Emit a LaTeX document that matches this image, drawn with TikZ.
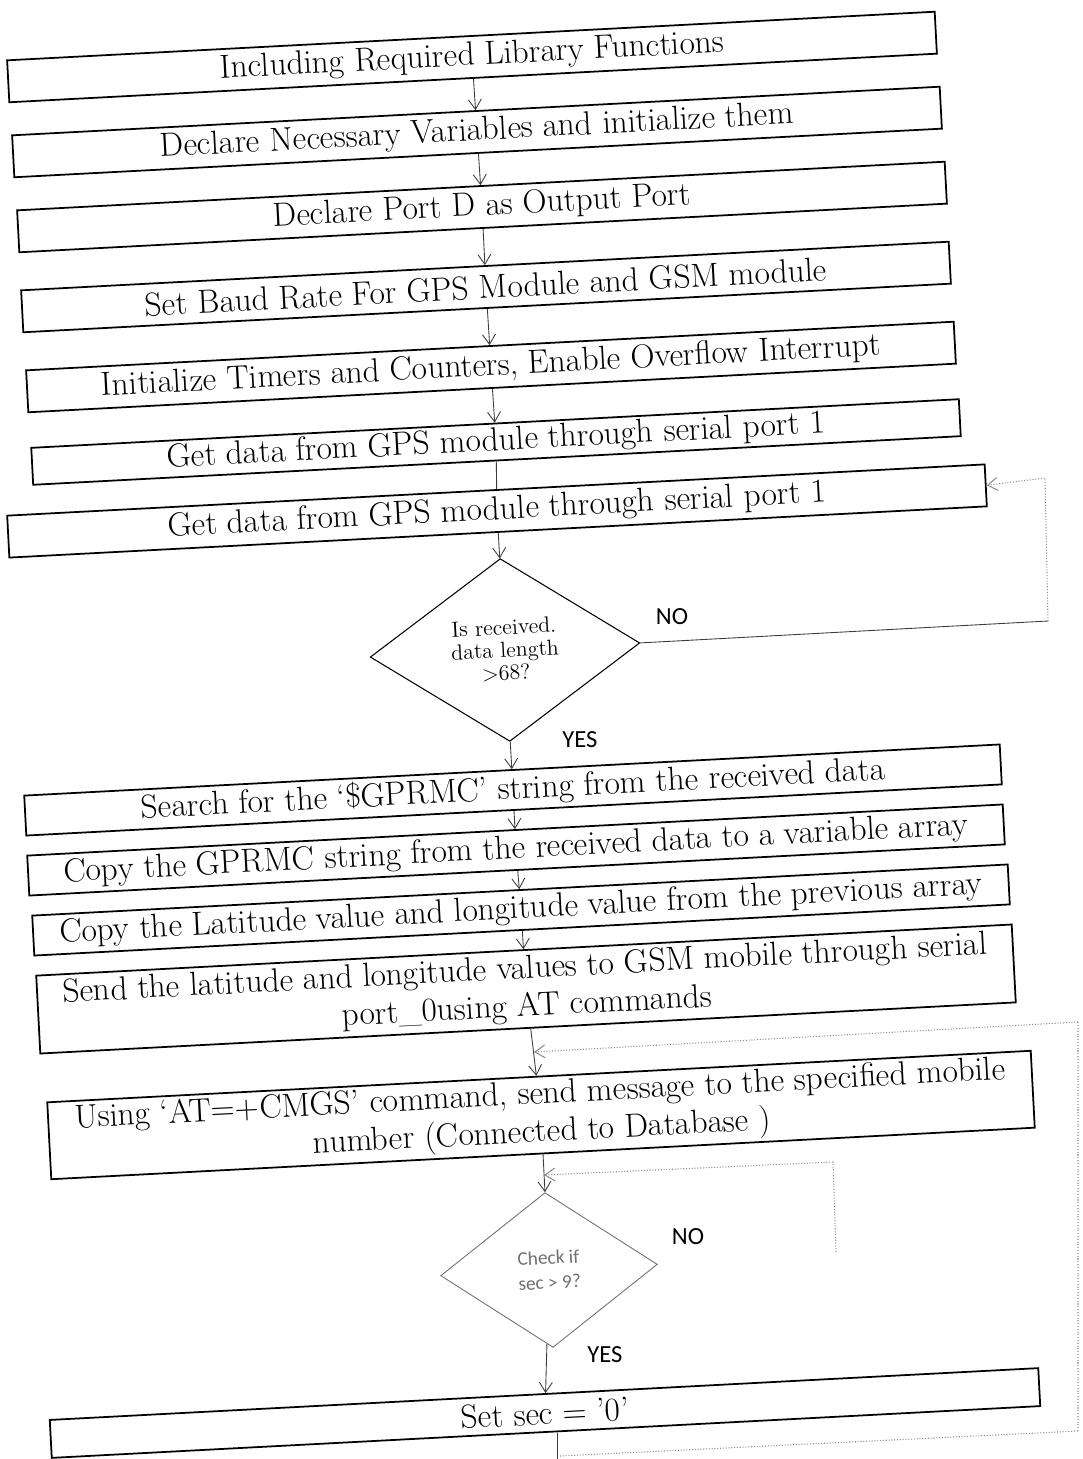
\documentclass[tikz,border=0pt]{standalone}
\usepackage{fontspec}
\usepackage{tikz}
\usetikzlibrary{shapes.geometric,arrows.meta}
\newfontfamily\carlito{Carlito}
\definecolor{grisL}{HTML}{3C3C3C}
\definecolor{grisP}{HTML}{8C8C8C}
\definecolor{grisC}{HTML}{B4B4B4}
\definecolor{grisT}{HTML}{707070}

\begin{document}
\begin{tikzpicture}[x=0.02cm,y=-0.02cm,
    caja/.style={draw,line width=1pt,rotate=3,inner sep=0pt,align=center,
      minimum width=18.58cm,minimum height=0.84cm,font=\fontsize{19}{21.6}\selectfont},
    rombo/.style={draw,diamond,rotate=3,inner sep=0pt,align=center},
    flecha/.style={grisL,line width=0.5pt,-{Straight Barb[length=2mm,width=2.6mm]}},
    linea/.style={grisL,line width=0.5pt},
    punteo/.style={grisP,line width=0.6pt,densely dotted},
    etiq/.style={font=\carlito\fontsize{14}{16}\selectfont}]
          \useasboundingbox (0,0) rectangle (1082,1459);
          \node[caja] (incl) at (472,57) {Including Required Library Functions};
          \node[caja] (vars) at (477,132) {Declare Necessary Variables and initialize them};
          \node[caja] (portD) at (482,207) {Declare Port D as Output Port};
          \node[caja] (baud) at (486,287) {Set Baud Rate For GPS Module and GSM module};
          \node[caja] (timers) at (491,367) {Initialize Timers and Counters, Enable Overflow Interrupt};
          \node[caja,minimum height=0.74cm] (gpsA) at (496,442) {Get data from GPS module through serial port 1};
          \node[caja,minimum width=19.58cm] (gpsB) at (497,511) {Get data from GPS module through serial port 1};
          \node[rombo,line width=0.6pt,minimum width=5.4cm,minimum height=3.66cm,
            font=\fontsize{12.5}{13}\selectfont] (largo) at (505,650) {Is received.\\data length\\>68?};
          \node[caja,minimum width=19.54cm,minimum height=0.8cm] (buscar) at (513,790) {Search for the ‘\$GPRMC’ string from the received data};
          \node[caja,minimum width=19.54cm,minimum height=0.8cm] (copiaA) at (516,850) {Copy the GPRMC string from the received data to a variable array};
          \node[caja,minimum width=19.54cm,minimum height=0.8cm] (copiaB) at (521,910) {Copy the Latitude value and longitude value from the previous array};
          \node[caja,minimum width=19.54cm,minimum height=1.56cm] (enviar) at (526,989) {Send the latitude and longitude values to GSM mobile through serial\\port\_0using AT commands};
          \node[caja,minimum width=19.7cm,minimum height=1.54cm] (cmgs) at (541,1115) {Using ‘AT=+CMGS’ command, send message to the specified mobile\\number (Connected to Database )};
          \node[rombo,grisT,line width=0.5pt,minimum width=4.34cm,minimum height=3.1cm,
            font=\carlito\fontsize{11}{14}\selectfont] (seg) at (549,1270) {Check if\\sec > 9?};
          \node[caja,minimum width=19.8cm,minimum height=0.76cm] (reset) at (545,1413) {Set sec = ’0’};
          \node[etiq] (noA) at (672,617) {NO};
          \node[etiq] (siA) at (580,740) {YES};
          \node[etiq] (noB) at (688,1237) {NO};
          \node[etiq] (siB) at (605,1355) {YES};
          \coordinate (esqA) at (1048,621);
          \coordinate (esqB) at (1045,478);
          \coordinate (retA) at (534,1052);
          \coordinate (retB) at (544,1175);
          \coordinate (esqC) at (836,1252);
          \coordinate (esqD) at (833,1162);
          \coordinate (retC) at (1078,1022);
          \coordinate (finA) at (560,1456);
          \coordinate (finB) at (1078,1431);
          \coordinate (fin) at (557,1459);
          \draw[flecha] (incl) -- (vars);
          \draw[flecha] (vars) -- (portD);
          \draw[flecha] (portD) -- (baud);
          \draw[flecha] (baud) -- (timers);
          \draw[flecha] (timers) -- (gpsA);
          \draw[linea] (gpsA) -- (gpsB);
          \draw[flecha] (gpsB) -- (largo);
          \draw[linea] (largo.east) -- (esqA);
          \draw[punteo,-{Straight Barb[length=2mm,width=2.6mm]}] (esqA) -- (esqB) -- (gpsB.east);
          \draw[flecha] (largo) -- (buscar);
          \draw[flecha] (buscar) -- (copiaA);
          \draw[flecha] (copiaA) -- (copiaB);
          \draw[flecha] (copiaB) -- (enviar);
          \draw[flecha] (enviar) -- (cmgs);
          \draw[punteo] (finA) -- (finB);
          \draw[punteo,grisC] (finB) -- (retC);
          \draw[punteo,-{Straight Barb[length=2mm,width=2.6mm]}] (retC) -- (retA);
          \draw[flecha] (cmgs) -- (seg);
          \draw[punteo,-{Straight Barb[length=2mm,width=2.6mm]}] (esqC) -- (esqD) -- (retB);
          \draw[flecha] (seg) -- (reset);
          \draw[linea] (reset.south -| fin) -- (fin);
        \end{tikzpicture}
\end{document}
